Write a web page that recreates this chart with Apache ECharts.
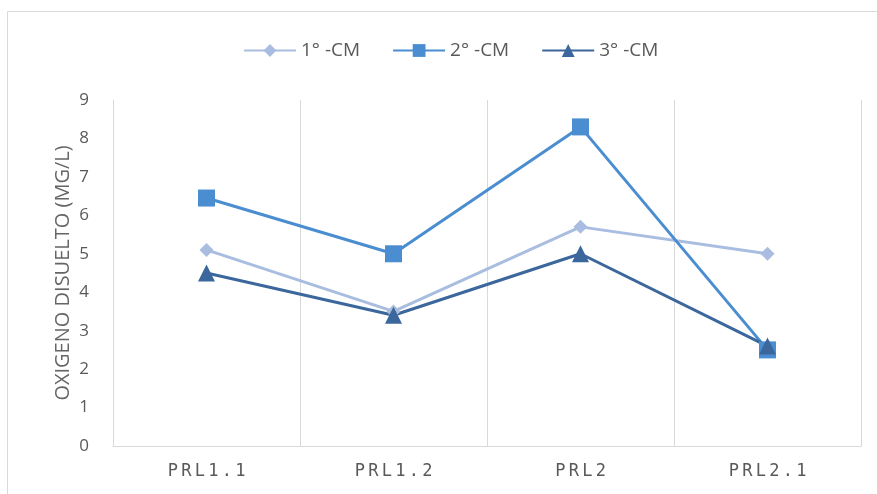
<!DOCTYPE html>
<html>
<head>
<meta charset="utf-8">
<script src="https://cdn.jsdelivr.net/npm/echarts@6/dist/echarts.min.js"></script>
<style>
  html, body { margin: 0; padding: 0; background: #fff; }
  #chart { width: 877px; height: 494px; }
</style>
</head>
<body>
<div id="chart"></div>
<script>
// Sampling stations along the x axis
const categories = ['PRL1.1', 'PRL1.2', 'PRL2', 'PRL2.1'];

// Dissolved oxygen (mg/L) per sampling campaign
const campaign1 = [5.1, 3.5, 5.7, 5.0];
const campaign2 = [6.45, 5.0, 8.3, 2.5];
const campaign3 = [4.5, 3.4, 5.0, 2.6];

const seriesNames = ['1° -CM', '2° -CM', '3° -CM'];
const yTicks = [0, 1, 2, 3, 4, 5, 6, 7, 8, 9];

const colors = ['#a9bde0', '#4a8dd0', '#3c679c'];
const textGray = '#595959';

const chart = echarts.init(document.getElementById('chart'), null, { renderer: 'canvas' });

function lineSeries(name, data, symbol, size, color) {
  return {
    name: name,
    type: 'line',
    data: data,
    symbol: symbol,
    symbolSize: size,
    showSymbol: true,
    lineStyle: { width: 3, color: color },
    itemStyle: { color: color },
    emphasis: { disabled: true }
  };
}

// Letter-spaced category labels: each character gets a fixed-width cell
function spaced(value) {
  return value.split('').map(function (ch) { return '{c|' + ch + '}'; }).join('');
}

chart.setOption({
  animation: false,
  textStyle: { fontFamily: 'Open Sans, Liberation Sans, sans-serif' },
  graphic: [{
    type: 'rect',
    shape: { x: 7.5, y: 11.5, width: 900, height: 520 },
    style: { fill: 'none', stroke: '#d9d9d9', lineWidth: 1 },
    silent: true,
    z: -10
  }],
  legend: {
    top: 36,
    left: 238,
    itemWidth: 52,
    itemHeight: 16,
    itemGap: 32,
    textStyle: { color: textGray, fontSize: 19, fontFamily: 'Open Sans, sans-serif' },
    data: seriesNames
  },
  grid: { left: 113, right: 16, top: 100, bottom: 48, containLabel: false },
  xAxis: {
    type: 'category',
    data: categories,
    boundaryGap: true,
    axisLine: { show: true, lineStyle: { color: '#d9d9d9', width: 1 } },
    axisTick: { show: false },
    splitLine: { show: true, interval: 0, lineStyle: { color: '#d9d9d9', width: 1 } },
    axisLabel: {
      interval: 0,
      margin: 17,
      formatter: spaced,
      rich: {
        c: {
          width: 13.5,
          align: 'center',
          color: textGray,
          fontSize: 17,
          fontFamily: 'DejaVu Sans Mono, monospace'
        }
      }
    }
  },
  yAxis: {
    type: 'value',
    min: yTicks[0],
    max: yTicks[yTicks.length - 1],
    interval: 1,
    name: 'OXIGENO DISUELTO (MG/L)',
    nameLocation: 'middle',
    nameRotate: 90,
    nameGap: 40,
    nameMoveOverlap: false,
    nameTextStyle: { color: '#666666', fontSize: 20, fontFamily: 'Open Sans, sans-serif' },
    axisLine: { show: true, lineStyle: { color: '#d9d9d9', width: 1 } },
    axisTick: { show: false },
    splitLine: { show: false },
    axisLabel: { color: textGray, fontSize: 17, margin: 24, fontFamily: 'Open Sans, sans-serif' }
  },
  series: [
    lineSeries(seriesNames[0], campaign1, 'diamond', 14, colors[0]),
    lineSeries(seriesNames[1], campaign2, 'rect', 17, colors[1]),
    lineSeries(seriesNames[2], campaign3, 'triangle', 17, colors[2])
  ]
});
</script>
</body>
</html>
